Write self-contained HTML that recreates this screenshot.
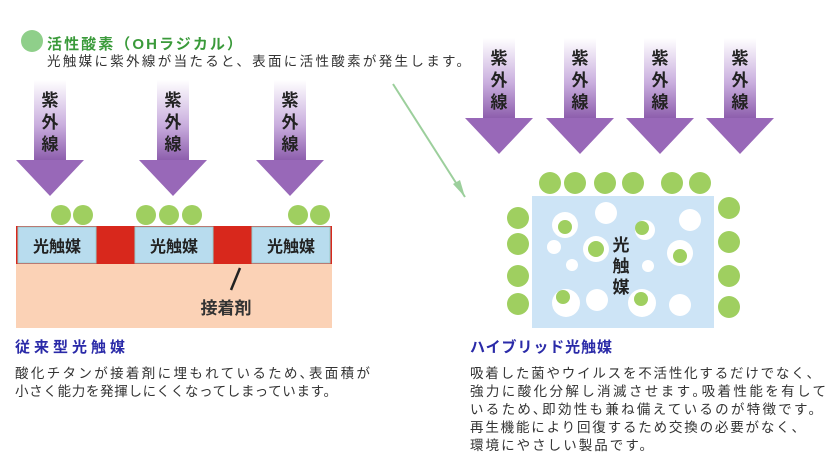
<!DOCTYPE html>
<html><head><meta charset="utf-8"><style>
html,body{margin:0;padding:0;background:#fff;}
svg{display:block;}
text{font-family:"Liberation Sans","Noto Sans CJK JP",sans-serif;}
</style></head><body>
<svg width="840" height="466" viewBox="0 0 840 466" xmlns="http://www.w3.org/2000/svg">
<defs>
<linearGradient id="ag" x1="0" y1="0" x2="0" y2="1">
<stop offset="0" stop-color="#ffffff"/>
<stop offset="0.55" stop-color="#c9aede"/>
<stop offset="1" stop-color="#8a5aaa"/>
</linearGradient>
<g id="arrL">
<rect x="-16" y="0" width="32" height="82" fill="url(#ag)"/>
<polygon points="-34,80 34,80 0,116" fill="#9868b8"/>
</g>
</defs>

<circle cx="32" cy="41" r="11" fill="#8fcf8a"/>
<text x="47" y="49" font-size="15" font-weight="bold" fill="#3a9a3a" textLength="195" lengthAdjust="spacing">活性酸素（OHラジカル）</text>
<text x="47" y="66" font-size="13.5" fill="#333" textLength="423" lengthAdjust="spacing">光触媒に紫外線が当たると、表面に活性酸素が発生します。</text>

<g transform="translate(50,80)"><use href="#arrL"/><text x="0" y="26" font-size="17" font-weight="bold" text-anchor="middle" fill="#222">紫</text><text x="0" y="48" font-size="17" font-weight="bold" text-anchor="middle" fill="#222">外</text><text x="0" y="70" font-size="17" font-weight="bold" text-anchor="middle" fill="#222">線</text></g>
<g transform="translate(173,80)"><use href="#arrL"/><text x="0" y="26" font-size="17" font-weight="bold" text-anchor="middle" fill="#222">紫</text><text x="0" y="48" font-size="17" font-weight="bold" text-anchor="middle" fill="#222">外</text><text x="0" y="70" font-size="17" font-weight="bold" text-anchor="middle" fill="#222">線</text></g>
<g transform="translate(290,80)"><use href="#arrL"/><text x="0" y="26" font-size="17" font-weight="bold" text-anchor="middle" fill="#222">紫</text><text x="0" y="48" font-size="17" font-weight="bold" text-anchor="middle" fill="#222">外</text><text x="0" y="70" font-size="17" font-weight="bold" text-anchor="middle" fill="#222">線</text></g>

<g transform="translate(499,38)"><use href="#arrL"/><text x="0" y="26" font-size="17" font-weight="bold" text-anchor="middle" fill="#222">紫</text><text x="0" y="48" font-size="17" font-weight="bold" text-anchor="middle" fill="#222">外</text><text x="0" y="70" font-size="17" font-weight="bold" text-anchor="middle" fill="#222">線</text></g>
<g transform="translate(580,38)"><use href="#arrL"/><text x="0" y="26" font-size="17" font-weight="bold" text-anchor="middle" fill="#222">紫</text><text x="0" y="48" font-size="17" font-weight="bold" text-anchor="middle" fill="#222">外</text><text x="0" y="70" font-size="17" font-weight="bold" text-anchor="middle" fill="#222">線</text></g>
<g transform="translate(660,38)"><use href="#arrL"/><text x="0" y="26" font-size="17" font-weight="bold" text-anchor="middle" fill="#222">紫</text><text x="0" y="48" font-size="17" font-weight="bold" text-anchor="middle" fill="#222">外</text><text x="0" y="70" font-size="17" font-weight="bold" text-anchor="middle" fill="#222">線</text></g>
<g transform="translate(740,38)"><use href="#arrL"/><text x="0" y="26" font-size="17" font-weight="bold" text-anchor="middle" fill="#222">紫</text><text x="0" y="48" font-size="17" font-weight="bold" text-anchor="middle" fill="#222">外</text><text x="0" y="70" font-size="17" font-weight="bold" text-anchor="middle" fill="#222">線</text></g>

<line x1="393" y1="84" x2="465" y2="197" stroke="#9ccf9c" stroke-width="2"/>
<polygon points="465,197 453,184 460,180" fill="#9ccf9c"/>

<rect x="16" y="262" width="316" height="66" fill="#fbd2b6"/>
<rect x="16" y="226" width="316" height="38" fill="#d8281c"/>
<rect x="18" y="227" width="78" height="36" fill="#b8dcee" stroke="#9cc" stroke-width="1"/>
<rect x="135" y="227" width="78" height="36" fill="#b8dcee" stroke="#9cc" stroke-width="1"/>
<rect x="252" y="227" width="78" height="36" fill="#b8dcee" stroke="#9cc" stroke-width="1"/>
<text x="57" y="252" font-size="16" font-weight="bold" text-anchor="middle" fill="#222">光触媒</text>
<text x="174" y="252" font-size="16" font-weight="bold" text-anchor="middle" fill="#222">光触媒</text>
<text x="291" y="252" font-size="16" font-weight="bold" text-anchor="middle" fill="#222">光触媒</text>
<g fill="#9fcf60">
<circle cx="61" cy="215" r="10"/><circle cx="83" cy="215" r="10"/>
<circle cx="146" cy="215" r="10"/><circle cx="169" cy="215" r="10"/><circle cx="192" cy="215" r="10"/>
<circle cx="298" cy="215" r="10"/><circle cx="320" cy="215" r="10"/>
</g>
<line x1="240" y1="268" x2="231" y2="290" stroke="#222" stroke-width="2.5"/>
<text x="226" y="314" font-size="17" font-weight="bold" text-anchor="middle" fill="#333">接着剤</text>

<text x="15" y="352" font-size="15" font-weight="bold" fill="#2a2aa8" textLength="110" lengthAdjust="spacing">従来型光触媒</text>
<text x="15" y="378" font-size="13.5" fill="#333" textLength="355" lengthAdjust="spacing">酸化チタンが接着剤に埋もれているため､表面積が</text>
<text x="15" y="396" font-size="13.5" fill="#333" textLength="322" lengthAdjust="spacing">小さく能力を発揮しにくくなってしまっています。</text>

<rect x="532" y="196" width="182" height="132" fill="#cde4f6"/>
<g fill="#ffffff">
<circle cx="565" cy="225" r="13"/><circle cx="606" cy="213" r="11"/><circle cx="690" cy="220" r="11"/>
<circle cx="645" cy="230" r="10"/><circle cx="554" cy="247" r="7"/><circle cx="596" cy="249" r="13"/>
<circle cx="680" cy="253" r="13"/><circle cx="572" cy="265" r="6"/><circle cx="648" cy="266" r="6"/>
<circle cx="566" cy="303" r="14"/><circle cx="597" cy="300" r="11"/><circle cx="642" cy="303" r="14"/>
<circle cx="680" cy="305" r="11"/>
</g>
<g fill="#9fcf60">
<circle cx="565" cy="227" r="7"/><circle cx="596" cy="249" r="8"/><circle cx="642" cy="228" r="7"/>
<circle cx="680" cy="256" r="7"/><circle cx="563" cy="297" r="7"/><circle cx="641" cy="299" r="7"/>
</g>
<g fill="#9fcf60">
<circle cx="550" cy="183" r="11"/><circle cx="575" cy="183" r="11"/><circle cx="605" cy="183" r="11"/>
<circle cx="633" cy="183" r="11"/><circle cx="672" cy="183" r="11"/><circle cx="700" cy="183" r="11"/>
<circle cx="518" cy="218" r="11"/><circle cx="518" cy="244" r="11"/><circle cx="518" cy="276" r="11"/><circle cx="518" cy="304" r="11"/>
<circle cx="729" cy="208" r="11"/><circle cx="729" cy="242" r="11"/><circle cx="729" cy="276" r="11"/><circle cx="729" cy="307" r="11"/>
</g>
<text x="621" y="251" font-size="17" font-weight="bold" text-anchor="middle" fill="#222">光</text>
<text x="621" y="272" font-size="17" font-weight="bold" text-anchor="middle" fill="#222">触</text>
<text x="621" y="293" font-size="17" font-weight="bold" text-anchor="middle" fill="#222">媒</text>

<text x="470" y="352" font-size="15" font-weight="bold" fill="#2a2aa8" textLength="142" lengthAdjust="spacing">ハイブリッド光触媒</text>
<text x="470" y="378" font-size="13.5" fill="#333" textLength="350" lengthAdjust="spacing">吸着した菌やウイルスを不活性化するだけでなく、</text>
<text x="470" y="396" font-size="13.5" fill="#333" textLength="356" lengthAdjust="spacing">強力に酸化分解し消滅させます｡吸着性能を有して</text>
<text x="470" y="414" font-size="13.5" fill="#333" textLength="352" lengthAdjust="spacing">いるため､即効性も兼ね備えているのが特徴です。</text>
<text x="470" y="432" font-size="13.5" fill="#333" textLength="335" lengthAdjust="spacing">再生機能により回復するため交換の必要がなく、</text>
<text x="470" y="450" font-size="13.5" fill="#333" textLength="183" lengthAdjust="spacing">環境にやさしい製品です。</text>
</svg>
</body></html>
